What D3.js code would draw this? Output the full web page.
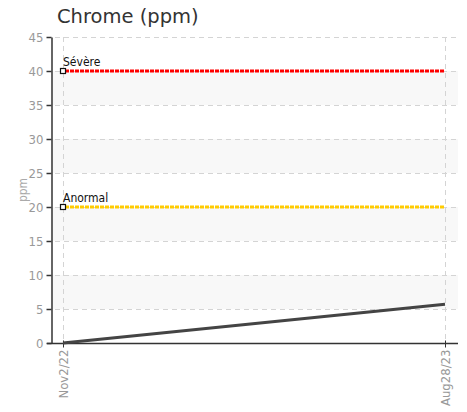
<!DOCTYPE html>
<html>
<head>
<meta charset="utf-8">
<script src="https://cdn.jsdelivr.net/npm/d3@7"></script>
<style>
  body { margin: 0; background: #fff; }
  svg { display: block; }
  .cond { font-family: "DejaVu Sans Condensed", "DejaVu Sans", sans-serif; font-stretch: condensed; }
</style>
</head>
<body>
<div id="chart"></div>
<script>
// data
var dates = ["2022-11-02", "2023-08-28"];
var dateLabels = ["Nov2/22", "Aug28/23"];
var values = [0, 5.7];
var thresholdNames = ["Sévère", "Anormal"];
var thresholdValues = [40, 20];
var thresholdColors = ["#ff0000", "#ffcc00"];
var yTicks = [0, 5, 10, 15, 20, 25, 30, 35, 40, 45];

var width = 467, height = 412;
var plotLeft = 51, plotRight = 458, plotTop = 37, plotBottom = 343;

var parse = d3.timeParse("%Y-%m-%d");
var points = dates.map(function(d, i) { return { date: parse(d), value: values[i] }; });

var svg = d3.select("#chart").append("svg")
    .attr("width", width)
    .attr("height", height);

var x = d3.scaleTime()
    .domain(d3.extent(points, function(d) { return d.date; }))
    .range([63, 445]);

var y = d3.scaleLinear()
    .domain([0, 45])
    .range([plotBottom, plotTop]);

// alternating bands
for (var i = 0; i < yTicks.length - 1; i++) {
    if (i % 2 === 1) {
        svg.append("rect")
            .attr("x", plotLeft)
            .attr("y", y(yTicks[i + 1]))
            .attr("width", plotRight - plotLeft)
            .attr("height", y(yTicks[i]) - y(yTicks[i + 1]))
            .attr("fill", "#f8f8f8");
    }
}

// horizontal grid
svg.selectAll(".hgrid")
    .data(yTicks.slice(1))
    .enter().append("line")
    .attr("x1", plotLeft + 4)
    .attr("x2", plotRight)
    .attr("y1", function(d) { return y(d) + 0.5; })
    .attr("y2", function(d) { return y(d) + 0.5; })
    .attr("stroke", "#d4d4d4")
    .attr("stroke-dasharray", "5,4");

// vertical grid
svg.selectAll(".vgrid")
    .data(points)
    .enter().append("line")
    .attr("x1", function(d) { return Math.round(x(d.date)) + 0.5; })
    .attr("x2", function(d) { return Math.round(x(d.date)) + 0.5; })
    .attr("y1", plotTop)
    .attr("y2", plotBottom)
    .attr("stroke", "#d4d4d4")
    .attr("stroke-dasharray", "5,4");

// y axis
var yAxis = svg.append("g")
    .attr("transform", "translate(" + (plotLeft + 0.5) + ",0)")
    .call(d3.axisLeft(y).tickValues(yTicks).tickSize(5).tickPadding(3).tickSizeOuter(0));
yAxis.select(".domain").attr("stroke", "#333").attr("stroke-width", 1.5);
yAxis.selectAll(".tick line").attr("stroke", "#333").attr("stroke-width", 1.5);
yAxis.selectAll(".tick text").attr("class", "cond").attr("fill", "#999").style("font-size", "13px");

// x axis
var xAxis = svg.append("g")
    .attr("transform", "translate(0," + (plotBottom + 0.5) + ")")
    .call(d3.axisBottom(x)
        .tickValues(points.map(function(d) { return d.date; }))
        .tickFormat(function(d, i) { return dateLabels[i]; })
        .tickSize(4).tickSizeOuter(0));
xAxis.select(".domain").remove();
xAxis.append("line")
    .attr("x1", plotLeft - 4).attr("x2", plotRight)
    .attr("stroke", "#333").attr("stroke-width", 1.5);
xAxis.selectAll(".tick line").attr("stroke", "#333").attr("y1", -3);
xAxis.selectAll(".tick text")
    .attr("class", "cond")
    .attr("fill", "#999")
    .style("font-size", "13px")
    .attr("transform", "rotate(-90)")
    .attr("text-anchor", "end")
    .attr("x", -6)
    .attr("y", 0)
    .attr("dy", "0.35em");

// y label
svg.append("text")
    .attr("class", "cond")
    .attr("transform", "translate(27," + ((plotTop + plotBottom) / 2) + ") rotate(-90)")
    .attr("text-anchor", "middle")
    .attr("fill", "#aaa")
    .style("font-size", "12px")
    .text("ppm");

// thresholds
thresholdValues.forEach(function(v, i) {
    svg.append("line")
        .attr("x1", x(points[0].date) + 2)
        .attr("x2", x(points[points.length - 1].date))
        .attr("y1", y(v))
        .attr("y2", y(v))
        .attr("stroke", thresholdColors[i])
        .attr("stroke-width", 3)
        .attr("stroke-dasharray", "4,1");
    svg.append("rect")
        .attr("x", x(points[0].date) - 2.5)
        .attr("y", y(v) - 2.5)
        .attr("width", 5)
        .attr("height", 5)
        .attr("fill", "#fff")
        .attr("stroke", "#111")
        .attr("stroke-width", 1.2);
    svg.append("text")
        .attr("class", "cond")
        .attr("x", x(points[0].date))
        .attr("y", y(v) - 5)
        .attr("fill", "#111")
        .style("font-size", "12px")
        .text(thresholdNames[i]);
});

// data line
var line = d3.line()
    .x(function(d) { return x(d.date); })
    .y(function(d) { return y(d.value); });

svg.append("path")
    .datum(points)
    .attr("d", line)
    .attr("fill", "none")
    .attr("stroke", "#444")
    .attr("stroke-width", 3);

// title
svg.append("text")
    .attr("x", 57)
    .attr("y", 23)
    .attr("fill", "#333")
    .style("font-family", "'DejaVu Sans', Verdana, sans-serif")
    .style("font-size", "19.5px")
    .text("Chrome (ppm)");
</script>
</body>
</html>
